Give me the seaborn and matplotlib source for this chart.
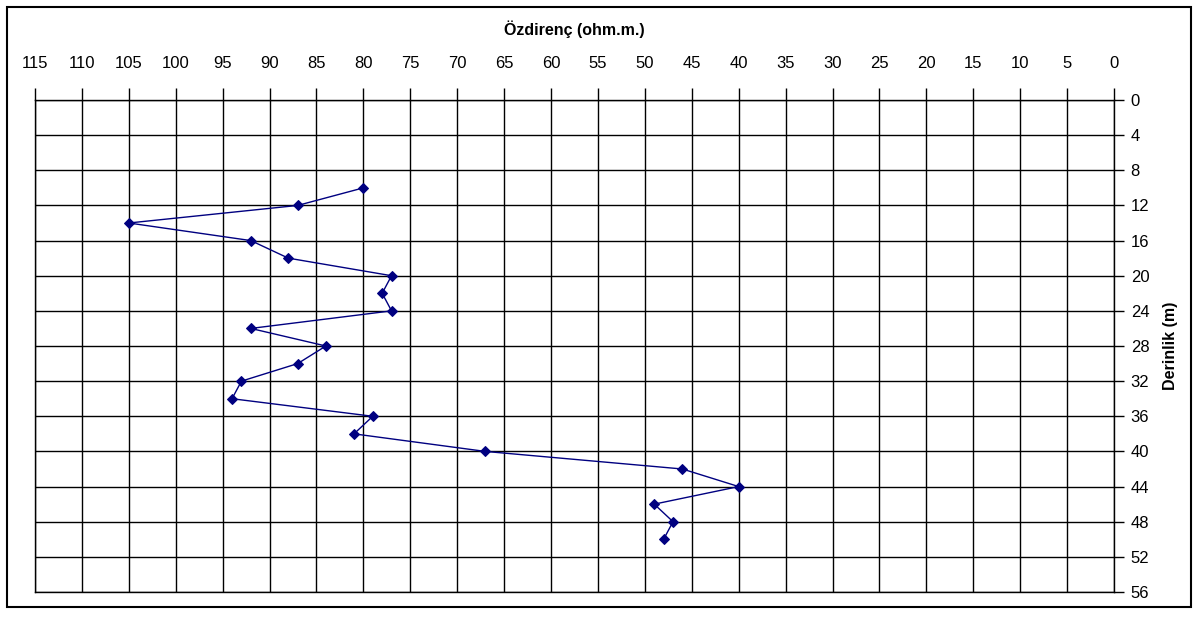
import matplotlib
matplotlib.use('Agg')
import matplotlib.pyplot as plt
import seaborn as sns
import pandas as pd
from matplotlib.patches import Rectangle

# derinlik (m) ve özdirenç (ohm.m) değerleri
derinlik = [10, 12, 14, 16, 18, 20, 22, 24, 26, 28, 30,
            32, 34, 36, 38, 40, 42, 44, 46, 48, 50]
ozdirenc = [80, 87, 105, 92, 88, 77, 78, 77, 92, 84, 87,
            93, 94, 79, 81, 67, 46, 40, 49, 47, 48]

x_ticks = list(range(0, 116, 5))
y_ticks = list(range(0, 57, 4))

df = pd.DataFrame({'derinlik': derinlik, 'ozdirenc': ozdirenc})

sns.set_style('white')
plt.rcParams['font.family'] = ['Liberation Sans', 'DejaVu Sans']
plt.rcParams['text.color'] = 'black'
plt.rcParams['axes.labelcolor'] = 'black'
plt.rcParams['xtick.color'] = 'black'
plt.rcParams['ytick.color'] = 'black'

fig = plt.figure(figsize=(11.98, 6.19), dpi=100)
ax = fig.add_axes([35 / 1198, 1 - 592 / 619, (1114 - 35) / 1198, (592 - 100) / 619])

sns.lineplot(data=df, x='ozdirenc', y='derinlik', sort=False, estimator=None,
             color='#000080', marker='D', markersize=5, linewidth=1,
             markeredgecolor='#000080', ax=ax)

ax.set_xlim(115, 0)
ax.set_ylim(56, 0)
ax.set_xticks(x_ticks)
ax.set_yticks(y_ticks)
ax.xaxis.tick_top()
ax.yaxis.tick_right()
ax.xaxis.set_label_position('top')
ax.yaxis.set_label_position('right')
ax.grid(True, color='black', linewidth=1)
ax.tick_params(axis='x', direction='out', length=9, width=1,
               labelsize=12, labelcolor='black', pad=12)
ax.tick_params(axis='y', direction='out', length=7, width=1,
               labelsize=12, labelcolor='black', pad=5)
for s in ax.spines.values():
    s.set_color('black')
    s.set_linewidth(1)

ax.set_xlabel('')
ax.set_ylabel('Derinlik (m)', fontweight='bold', fontsize=11.5, labelpad=10, color='black')
ax.set_title('Özdirenç (ohm.m.)', fontweight='bold', fontsize=11.5, pad=47, color='black')

fig.patches.append(Rectangle((7 / 1198, 1 - 607 / 619), 1184 / 1198, 600 / 619,
                             transform=fig.transFigure, fill=False,
                             edgecolor='black', linewidth=1.5))

plt.savefig('out.png', dpi=100)
